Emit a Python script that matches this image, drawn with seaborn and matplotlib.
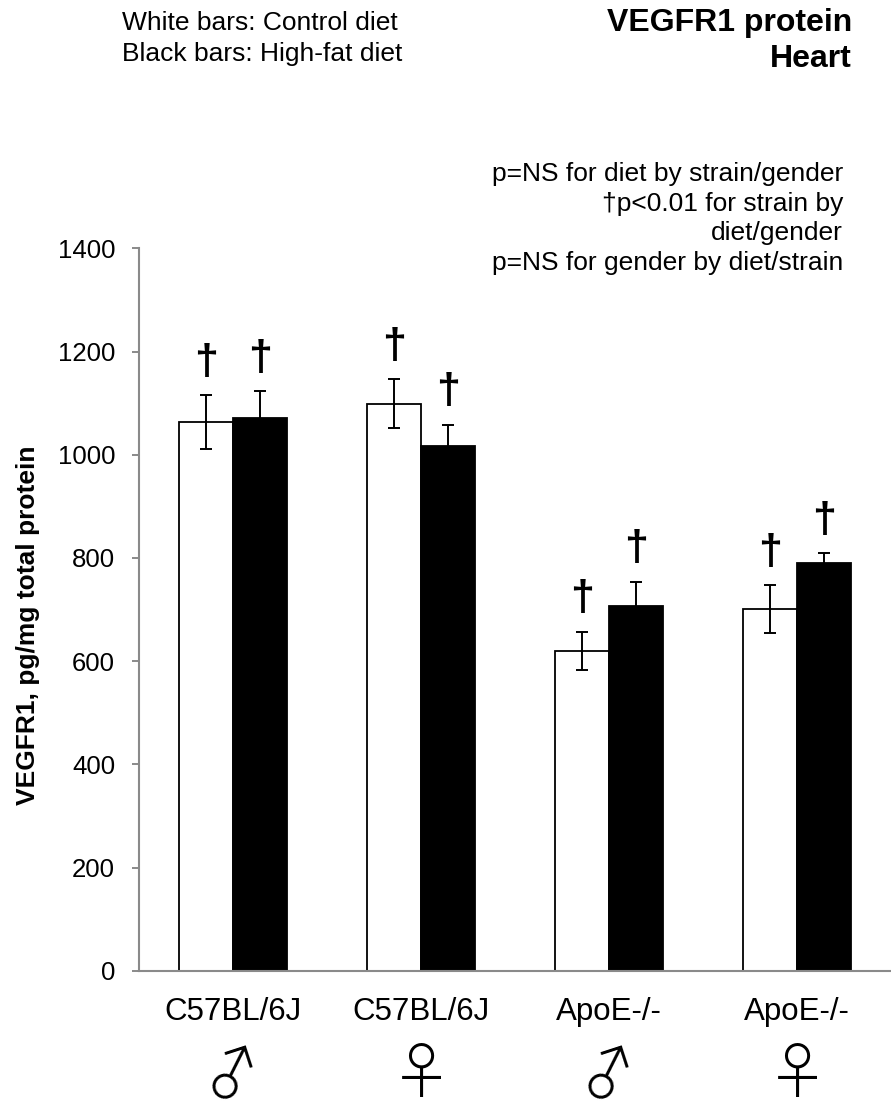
import numpy as np
import pandas as pd
import matplotlib
matplotlib.use("Agg")
import matplotlib.pyplot as plt
import seaborn as sns

# ---- data ----
groups = ["C57BL/6J ♂", "C57BL/6J ♀", "ApoE-/- ♂", "ApoE-/- ♀"]
strains = ["C57BL/6J", "C57BL/6J", "ApoE-/-", "ApoE-/-"]
genders = ["♂", "♀", "♂", "♀"]
diets = ["Control diet", "High-fat diet"]
control_mean = [1063, 1099, 620, 701]
control_se = [52, 47, 37, 46]
highfat_mean = [1072, 1017, 706, 790]
highfat_se = [51, 41, 48, 19]
control_mark = ["†", "†", "†", "†"]
highfat_mark = ["†", "†", "†", "†"]
yticks = [0, 200, 400, 600, 800, 1000, 1200, 1400]
legend_lines = ["White bars: Control diet", "Black bars: High-fat diet"]
title_lines = ["VEGFR1 protein", "Heart"]
stat_notes = ["p=NS for diet by strain/gender",
              "\u2020p<0.01 for strain by",
              "diet/gender",
              "p=NS for gender by diet/strain"]
ylabel = "VEGFR1, pg/mg total protein"

df = pd.DataFrame({
    "group": groups * 2,
    "diet": [diets[0]] * 4 + [diets[1]] * 4,
    "mean": control_mean + highfat_mean,
})

sns.set_theme(style="white")
plt.rcParams["font.family"] = ["Liberation Sans", "DejaVu Sans"]
plt.rcParams["text.color"] = "black"
plt.rcParams["axes.labelcolor"] = "black"
plt.rcParams["xtick.color"] = "black"
plt.rcParams["ytick.color"] = "black"

W, H = 891, 1103
fig = plt.figure(figsize=(W / 100, H / 100), dpi=100)
ax = fig.add_axes([139.3 / W, (H - 970.7) / H, (W - 139.3) / W, (970.7 - 248.3) / H])

sns.barplot(data=df, x="group", y="mean", hue="diet", order=groups, hue_order=diets,
            palette=["white", "black"], saturation=1, edgecolor="black", linewidth=1.3,
            width=0.575, errorbar=None, legend=False, ax=ax)

gray = "#8a8a8a"
ses = [control_se, highfat_se]
marks = [control_mark, highfat_mark]
for cont, se, mk in zip(ax.containers, ses, marks):
    xs = [b.get_x() + b.get_width() / 2 for b in cont]
    ys = [b.get_height() for b in cont]
    ax.errorbar(xs, ys, yerr=se, fmt="none", ecolor="black", elinewidth=1.4,
                capsize=4.3, capthick=1.4, zorder=5)
    for x, y, e, m in zip(xs, ys, se, mk):
        ax.annotate(m, xy=(x, y + e), xytext=(0, 9), textcoords="offset points",
                    ha="center", va="bottom", fontsize=31, fontweight="bold",
                    color="black")

ax.set_xlim(-0.5, 3.5)
ax.set_ylim(0, 1400)
ax.set_yticks(yticks)
ax.set_yticklabels([str(v) for v in yticks])
ax.set_xticks(range(len(groups)))
ax.set_xticklabels(strains, fontsize=22.5)
ax.tick_params(axis="x", length=0, pad=19)
ax.tick_params(axis="y", left=True, length=5.4, width=1.4, color=gray, pad=12,
               labelsize=18.5, labelcolor="black")
ax.set_xlabel("")
ax.set_ylabel("")
for s in ["top", "right"]:
    ax.spines[s].set_visible(False)
for s in ["left", "bottom"]:
    ax.spines[s].set_color(gray)
    ax.spines[s].set_linewidth(1.5)

for i, g in enumerate(genders):
    ax.annotate(g, xy=(i, 0), xycoords=("data", "axes fraction"), xytext=(0, -76),
                textcoords="offset points", ha="center", va="center", fontsize=44,
                fontweight="light", family=["Noto Sans CJK JP", "DejaVu Sans"],
                rotation=(18 if g == "♂" else 0), rotation_mode="anchor",
                annotation_clip=False, color="black")

fig.text(28 / W, 1 - 625 / H, ylabel, rotation=90, ha="center", va="center",
         fontsize=19, fontweight="bold")

for k, line in enumerate(legend_lines):
    fig.text(122 / W, 1 - (30 + 31 * k) / H, line, ha="left", va="baseline", fontsize=19)

for k, line in enumerate(title_lines):
    fig.text(852 / W, 1 - (30.7 + 36.3 * k) / H, line, ha="right", va="baseline",
             fontsize=23, fontweight="bold")

for k, line in enumerate(stat_notes):
    fig.text(843 / W, 1 - (181 + 29.7 * k) / H, line, ha="right", va="baseline", fontsize=19)

fig.savefig("out.png", dpi=100, facecolor="white")
